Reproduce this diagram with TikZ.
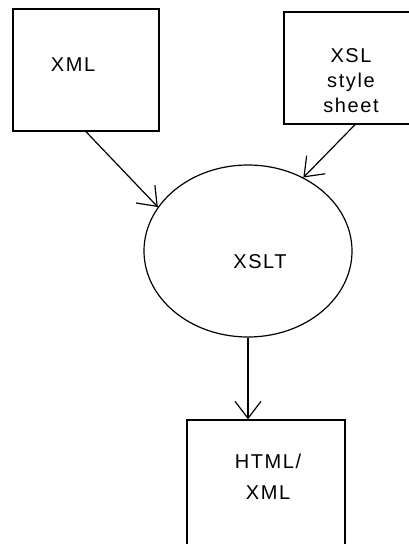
\documentclass[tikz,border=0pt]{standalone}
\usepackage{fontspec}
\setmainfont{Liberation Sans}[LetterSpace=8]
\usetikzlibrary{arrows.meta,shapes.geometric,calc}
\begin{document}
\begin{tikzpicture}[x=1pt,y=1pt,
  box/.style={draw,line width=1.4pt,rectangle,inner sep=0pt},
  txt/.style={inner sep=0pt,font=\fontsize{20}{24}\selectfont},
  conn/.style={line width=1.2pt,-{Straight Barb[length=17pt,width=26pt,line width=1.2pt]}}]
\useasboundingbox (0,0) rectangle (409,-544);
\clip (0,0) rectangle (409,-544);
\node[box,minimum width=146pt,minimum height=122pt] (xml) at (86,-70) {};
\node[txt] (xmlt) at (73,-65) {XML};
\node[box,minimum width=136pt,minimum height=112pt] (xsl) at (352,-68) {};
\node[txt,align=center,font=\fontsize{20}{25}\selectfont] (xslt) at (351,-81) {XSL\\style\\sheet};
\node[draw,line width=1.2pt,ellipse,minimum width=208pt,minimum height=172pt,inner sep=0pt] (ell) at (248,-251) {};
\node[txt] (ellt) at (260,-262) {XSLT};
\node[box,minimum width=158pt,minimum height=150pt] (html) at (266,-495) {};
\node[txt,align=center,font=\fontsize{20}{31}\selectfont] (htmlt) at (268,-477) {HTML/\\XML};
\draw[conn] (xml.south) -- (ell.154);
\draw[conn] ($(xsl.south)+(3,0)$) -- (ell.53);
\draw[conn] (ell.south) -- (ell.south |- html.north);
\end{tikzpicture}
\end{document}
